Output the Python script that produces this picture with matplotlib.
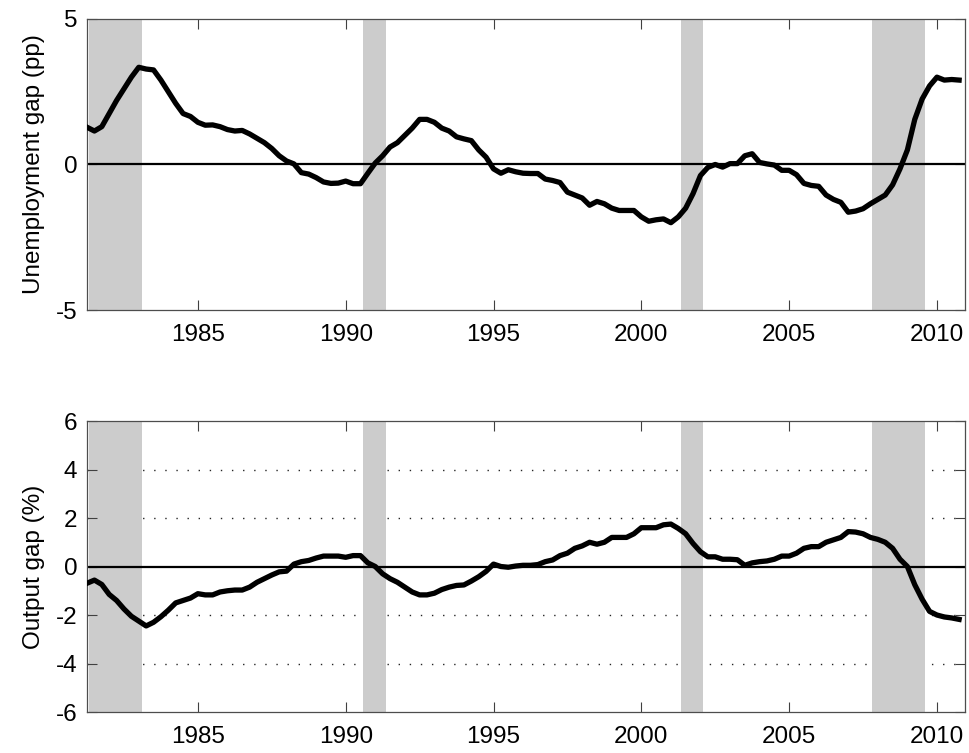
import numpy as np
import pandas as pd
import matplotlib
matplotlib.use('Agg')
import matplotlib.pyplot as plt

plt.rcParams['font.family'] = ['Liberation Sans', 'DejaVu Sans']
plt.rcParams['axes.unicode_minus'] = False

# quarterly observations, 1981Q2 .. 2010Q4
quarters = pd.period_range('1981Q2', '2010Q4', freq='Q')

unemp_gap = [
    1.28, 1.15, 1.30,
    1.75, 2.20, 2.60, 3.00,
    3.34, 3.28, 3.25, 2.90,
    2.50, 2.10, 1.75, 1.65,
    1.45, 1.35, 1.36, 1.30,
    1.20, 1.15, 1.17, 1.05,
    0.90, 0.75, 0.55, 0.30,
    0.12, 0.02, -0.28, -0.33,
    -0.45, -0.60, -0.65, -0.64,
    -0.57, -0.66, -0.66, -0.30,
    0.05, 0.30, 0.60, 0.75,
    1.00, 1.25, 1.55, 1.55,
    1.45, 1.25, 1.15, 0.95,
    0.88, 0.82, 0.50, 0.25,
    -0.15, -0.30, -0.18, -0.25,
    -0.30, -0.31, -0.31, -0.50,
    -0.55, -0.62, -0.95, -1.05,
    -1.15, -1.40, -1.27, -1.35,
    -1.50, -1.58, -1.58, -1.58,
    -1.80, -1.95, -1.90, -1.87,
    -2.00, -1.80, -1.50, -1.00,
    -0.38, -0.10, 0.00, -0.09,
    0.03, 0.03, 0.30, 0.37,
    0.07, 0.02, -0.02, -0.20,
    -0.20, -0.35, -0.65, -0.72,
    -0.75, -1.05, -1.20, -1.30,
    -1.64, -1.60, -1.52, -1.35,
    -1.20, -1.05, -0.70, -0.15,
    0.50, 1.55, 2.25, 2.70,
    3.00, 2.90, 2.92, 2.90,
]

output_gap = [
    -0.69, -0.56, -0.74,
    -1.15, -1.40, -1.75, -2.05,
    -2.25, -2.45, -2.30, -2.07,
    -1.80, -1.50, -1.40, -1.30,
    -1.12, -1.17, -1.17, -1.05,
    -1.00, -0.97, -0.97, -0.85,
    -0.65, -0.50, -0.35, -0.22,
    -0.19, 0.10, 0.20, 0.25,
    0.35, 0.43, 0.43, 0.43,
    0.38, 0.45, 0.45, 0.15,
    0.00, -0.30, -0.50, -0.65,
    -0.85, -1.05, -1.17, -1.17,
    -1.10, -0.95, -0.85, -0.78,
    -0.76, -0.60, -0.42, -0.20,
    0.10, 0.00, -0.03, 0.02,
    0.05, 0.05, 0.08, 0.20,
    0.27, 0.45, 0.55, 0.75,
    0.85, 1.00, 0.92, 1.00,
    1.20, 1.20, 1.20, 1.35,
    1.60, 1.60, 1.60, 1.72,
    1.75, 1.57, 1.35, 0.95,
    0.61, 0.40, 0.40, 0.30,
    0.30, 0.28, 0.05, 0.15,
    0.20, 0.23, 0.30, 0.43,
    0.43, 0.55, 0.75, 0.82,
    0.82, 1.00, 1.10, 1.20,
    1.44, 1.42, 1.35, 1.20,
    1.12, 1.00, 0.75, 0.30,
    0.00, -0.75, -1.35, -1.85,
    -2.00, -2.08, -2.12, -2.18,
]

# NBER recessions (start, end)
recessions = [(1981.33, 1983.1), (1990.58, 1991.35), (2001.35, 2002.08), (2007.8, 2009.6)]

xticks = [1985, 1990, 1995, 2000, 2005, 2010]


def style_axes(ax, ylim, yticks, ylabel):
    ax.set_xlim(1981.25, 2010.95)
    ax.set_ylim(*ylim)
    ax.set_xticks(xticks)
    ax.set_yticks(yticks)
    ax.tick_params(direction='in', length=7, width=0.8, top=True, right=True,
                   labelsize=17.5, colors='0.25', labelcolor='black')
    ax.tick_params(axis='x', pad=10)
    ax.tick_params(axis='y', pad=7)
    for s in ax.spines.values():
        s.set_linewidth(0.9)
        s.set_color('0.3')
    ax.set_ylabel(ylabel, fontsize=17.5, labelpad=8)
    for a, b in recessions:
        ax.axvspan(a, b, color='#cccccc', lw=0, zorder=1)
    ax.axhline(0, color='black', lw=1.6, zorder=2)


years = np.array([q.year + (q.quarter - 1) / 4 for q in quarters])

fig = plt.figure(figsize=(9.69, 7.53), dpi=100)
ax1 = fig.add_axes([0.0898, 0.5883, 0.9061, 0.3865])
ax2 = fig.add_axes([0.0898, 0.0544, 0.9061, 0.3865])

style_axes(ax1, (-5, 5), [-5, 0, 5], 'Unemployment gap (pp)')
ax1.plot(years, unemp_gap, color='black', lw=3.8, solid_joinstyle='round', zorder=3)

style_axes(ax2, (-6, 6), [-6, -4, -2, 0, 2, 4, 6], 'Output gap (%)')
for g in [-4, -2, 2, 4]:
    ax2.axhline(g, color='0.15', lw=1.0, linestyle=(0, (1, 7)), zorder=0)
ax2.plot(years, output_gap, color='black', lw=3.8, solid_joinstyle='round', zorder=3)

fig.savefig('out.png', dpi=100)
